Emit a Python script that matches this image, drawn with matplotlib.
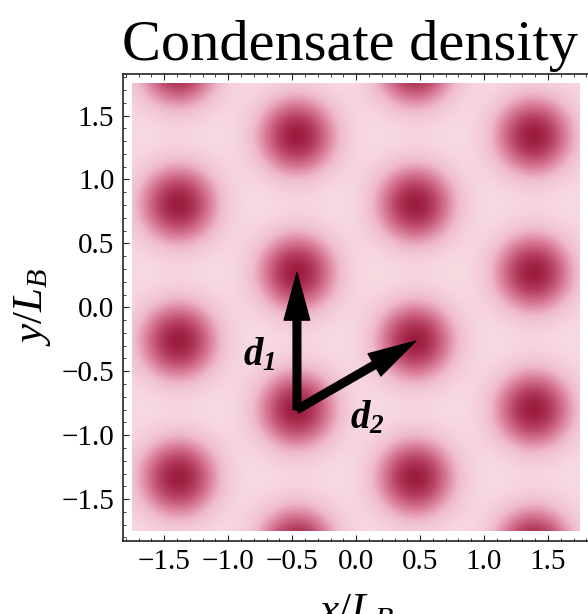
import numpy as np
import matplotlib
matplotlib.use("Agg")
import matplotlib.pyplot as plt
from matplotlib.colors import LinearSegmentedColormap, PowerNorm

plt.rcParams['font.family'] = ['Liberation Serif', 'DejaVu Serif']
plt.rcParams['mathtext.fontset'] = 'custom'
plt.rcParams['mathtext.rm'] = 'Liberation Serif'
plt.rcParams['mathtext.it'] = 'Liberation Serif:italic'
plt.rcParams['mathtext.bf'] = 'Liberation Serif:italic:bold'

# triangular lattice of density maxima (units of L_B)
lattice_origin = np.array([-0.463, 0.270])
d1 = np.array([0.0, 1.070])
d2 = np.array([0.927, 0.535])
spot_sigma = 0.25
image_half = 1.75
axis_half = 1.825

# arrows start at the site below the origin
arrow_start = lattice_origin - d1

ticks = [-1.5, -1.0, -0.5, 0.0, 0.5, 1.0, 1.5]
tick_labels = ["\u22121.5", "\u22121.0", "\u22120.5", "0.0", "0.5", "1.0", "1.5"]

# density on a grid
n = 500
g = np.linspace(-image_half, image_half, n)
X, Y = np.meshgrid(g, g)
density = np.zeros_like(X)
for i in range(-4, 5):
    for j in range(-4, 5):
        cx, cy = lattice_origin + i * d1 + j * d2
        density += np.exp(-((X - cx) ** 2 + (Y - cy) ** 2) / (2 * spot_sigma ** 2))

cmap = LinearSegmentedColormap.from_list(
    "condensate",
    [(0.0, "#f7d9e1"), (0.25, "#efbacb"), (0.5, "#d97c99"),
     (0.75, "#bb4868"), (1.0, "#9c1c40")])

fig = plt.figure(figsize=(5.88, 6.14), dpi=100)
ax = fig.add_axes([0.2087, 0.1194, 0.794, 0.7601])

ax.imshow(density, extent=[-image_half, image_half, -image_half, image_half],
          origin="lower", cmap=cmap,
          norm=PowerNorm(gamma=1.2, vmin=density.min(), vmax=density.max()),
          interpolation="bilinear", aspect="auto")

ax.set_xlim(-axis_half, axis_half)
ax.set_ylim(-axis_half, axis_half)

# lattice vectors
for vec in (d1, d2):
    ax.arrow(arrow_start[0], arrow_start[1], vec[0], vec[1], width=0.06,
             head_width=0.2, head_length=0.37, length_includes_head=True,
             fc="black", ec="black", joinstyle="round", capstyle="round")

ax.text(-0.76, -0.38, r"$\mathbf{d}_{\mathbf{1}}$", fontsize=28, ha="center", va="center")
ax.text(0.09, -0.87, r"$\mathbf{d}_{\mathbf{2}}$", fontsize=28, ha="center", va="center")

ax.set_xticks(ticks)
ax.set_xticklabels(tick_labels)
ax.set_yticks(ticks)
ax.set_yticklabels(tick_labels)
ax.xaxis.set_minor_locator(matplotlib.ticker.MultipleLocator(0.1))
ax.yaxis.set_minor_locator(matplotlib.ticker.MultipleLocator(0.1))
ax.tick_params(which="both", direction="in", top=True, right=False, labelsize=21,
               color="#222222", labelcolor="black")
ax.tick_params(which="major", length=4, width=0.8, pad=6)
ax.tick_params(which="minor", length=2.5, width=0.6)
for s in ax.spines.values():
    s.set_linewidth(1.2)
    s.set_color("#222222")

ax.set_xlabel(r"$x/L_B$", fontsize=31)
ax.set_ylabel(r"$y/L_B$", fontsize=31)
ax.xaxis.set_label_coords(0.5, -0.112)
ax.yaxis.set_label_coords(-0.15, 0.5)

fig.text(0.595, 0.902, "Condensate density", fontsize=42, ha="center", va="baseline")

fig.savefig("out.png", dpi=100)
